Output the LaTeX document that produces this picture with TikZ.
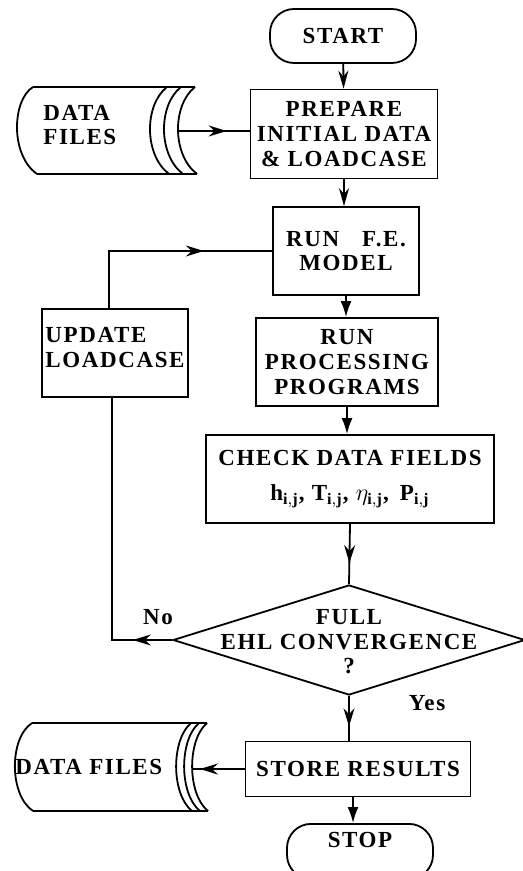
\documentclass[tikz,border=0pt]{standalone}
\usepackage{fontspec}
\setmainfont{Liberation Serif}[LetterSpace=7]
\usetikzlibrary{arrows.meta, positioning, shapes.geometric, decorations.markings}

\tikzset{
  box/.style={draw, line width=0.9pt, align=center, inner xsep=2pt, inner ysep=2pt},
  term/.style={box, rounded corners=12pt, minimum width=73pt, minimum height=27pt},
  lbl/.style={align=center, inner sep=0pt},
  flow/.style={line width=0.9pt, -{Stealth[length=9pt,width=5pt]}},
  boldflow/.style={line width=0.9pt, -{Latex[length=8pt,width=5.5pt]}},
  midarrow/.style={line width=0.9pt, postaction={decorate},
    decoration={markings, mark=at position #1 with {\arrow{Stealth[length=9pt,width=5.5pt]}}}},
}

\begin{document}
\begin{tikzpicture}[x=0.5pt, y=-0.5pt, font=\bfseries\fontsize{11.5}{12.3}\selectfont]
    \useasboundingbox (0,0) rectangle (523,871);

    \node[term] (start) at (343,36) {START};
    \node[box, minimum width=93.5pt, minimum height=44.5pt] (prep) at (344,134) {PREPARE\\INITIAL DATA\\\& LOADCASE};
    \node[box, minimum width=73pt, minimum height=44pt] (fem) at (346,251) {RUN\quad F.E.\\MODEL};
    \node[box, minimum width=73pt, minimum height=44pt, align=left, inner xsep=1pt, text depth=5.5pt] (upd) at (115,353) {UPDATE\\LOADCASE};
    \node[box, minimum width=91pt, minimum height=44pt] (proc) at (347,362) {RUN\\PROCESSING\\PROGRAMS};
    \node[box, minimum width=144pt, minimum height=44pt] (check) at (350,479)
        {CHECK DATA FIELDS\\[5pt] $\mathbf{h}_{\mathbf{i,j}}$, $\mathbf{T}_{\mathbf{i,j}}$, $\eta_{\mathbf{i,j}}$,\, $\mathbf{P}_{\mathbf{i,j}}$};
    \node[draw, diamond, line width=0.9pt, minimum width=176pt, minimum height=55pt, inner sep=0pt] (conv) at (349,640) {};
    \node[lbl] (convtxt) at (349,642) {FULL\\EHL CONVERGENCE\\?};
    \node[box, minimum width=112.5pt, minimum height=27.5pt] (store) at (358,769) {STORE RESULTS};
    \node[term, anchor=north, text depth=12pt, minimum height=27.5pt] (stop) at (360,823) {STOP};
    \node[lbl] (no) at (158,617) {No};
    \node[lbl] (yes) at (427,703) {Yes};

    % data files (input)
    \draw[line width=0.9pt] (33,87) -- (195,87) (37,174) -- (197,174);
    \draw[line width=0.9pt] (33,87) .. controls (12,100) and (10,155) .. (37,174);
    \draw[line width=0.9pt] (195,87) .. controls (172,105) and (172,155) .. (197,174);
    \draw[line width=0.9pt] (181,87) .. controls (158,105) and (158,155) .. (183,174);
    \draw[line width=0.9pt] (167,87) .. controls (144,105) and (144,155) .. (169,174);
    \node[lbl, anchor=west, align=left] (dfone) at (43,125) {DATA\\FILES};
    \coordinate (dfa) at (178,131);

    % data files (output)
    \draw[line width=0.9pt] (32,723) -- (207,723) (33,811) -- (208,811);
    \draw[line width=0.9pt] (32,723) .. controls (9,738) and (9,795) .. (33,811);
    \draw[line width=0.9pt] (207,723) .. controls (187,740) and (187,794) .. (208,811);
    \draw[line width=0.9pt] (199,723) .. controls (179,740) and (179,794) .. (200,811);
    \draw[line width=0.9pt] (191,723) .. controls (171,740) and (171,794) .. (192,811);
    \node[lbl, anchor=west] (dftwo) at (15,767) {DATA FILES};
    \coordinate (dfb) at (192,769);

    \draw[flow] (start) -- (prep);
    \draw[flow] (prep.south) -- (prep.south |- fem.north);
    \draw[boldflow] (fem.south) -- (fem.south |- proc.north);
    \draw[boldflow] (proc.south) -- (proc.south |- check.north);
    \draw[midarrow=0.65] (check.south) -- (conv.north);
    \draw[midarrow=0.68] (conv.south) -- (conv.south |- store.north);
    \draw[boldflow] ([xshift=-2.5pt]store.south) -- ([xshift=-2.5pt]store.south |- stop.north);
    \draw[midarrow=0.68] (dfa) -- (dfa -| prep.west);
    \draw[midarrow=0.85] (store.west) -- (dfb);
    \draw[midarrow=0.13] (conv.west) -| ([xshift=-1.5pt]upd.south);
    \draw[midarrow=0.69] ([xshift=-3pt]upd.north) |- (fem.west);
\end{tikzpicture}
\end{document}
